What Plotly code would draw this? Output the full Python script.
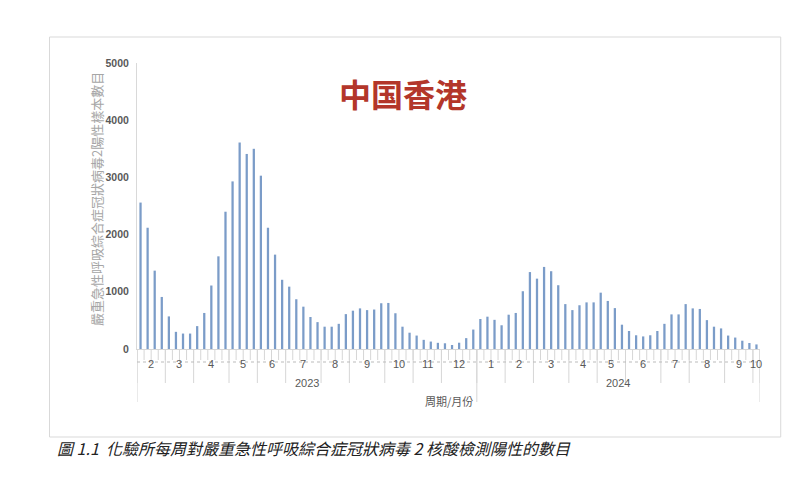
import numpy as np
import plotly.graph_objects as go

# weekly positive counts, grouped by month
years = ["2023", "2024"]
months_2023 = ["2", "3", "4", "5", "6", "7", "8", "9", "10", "11", "12"]
weeks_2023 = [4, 4, 5, 4, 4, 5, 4, 5, 4, 4, 5]
months_2024 = ["1", "2", "3", "4", "5", "6", "7", "8", "9", "10"]
weeks_2024 = [4, 4, 5, 4, 4, 5, 4, 5, 4, 1]

counts_2023 = [2560, 2120, 1370, 910,
               570, 300, 270, 270,
               400, 630, 1110, 1620, 2400,
               2930, 3610, 3410, 3500,
               3030, 2120, 1650, 1210,
               1090, 870, 740, 560, 470,
               390, 390, 440, 610,
               670, 710, 680, 690, 800,
               805, 625, 390, 285,
               235, 160, 130, 108,
               100, 70, 110, 190, 340]
counts_2024 = [525, 565, 510, 415,
               600, 630, 1010, 1345,
               1230, 1435, 1360, 1115, 785,
               680, 765, 815, 815,
               985, 840, 715, 425,
               315, 240, 220, 240, 315,
               440, 605, 605, 785,
               710, 700, 505, 390, 360,
               235, 200, 145, 105,
               80]

counts = counts_2023 + counts_2024
week_idx = np.arange(1, len(counts) + 1)
month_labels = months_2023 + months_2024
month_weeks = weeks_2023 + weeks_2024
year_weeks = [sum(weeks_2023), sum(weeks_2024)]

# page pixel -> paper helpers (plot area 136.5..752.5 x, 63..349 y on the page)
def py(p):
    return (349 - p) / 286

def px(p):
    return (p - 136.5) / 616

fig = go.Figure()
fig.add_trace(go.Bar(x=week_idx, y=counts, width=0.32,
                     marker=dict(color="#7b9cc8", line=dict(width=0))))

shapes = []
annotations = []
grey = "#d6d6d6"

# week ticks
for b in np.arange(0.5, len(counts) + 1, 1.0):
    shapes.append(dict(type="line", xref="x", yref="paper", x0=b, x1=b,
                       y0=0, y1=py(360), line=dict(color=grey, width=1)))
# month groups
edges = np.concatenate([[0.5], 0.5 + np.cumsum(month_weeks)])
for i, lab in enumerate(month_labels):
    annotations.append(dict(x=(edges[i] + edges[i + 1]) / 2, xref="x", y=py(372), yref="paper",
                            xanchor="center", text=lab, showarrow=False,
                            font=dict(size=11, color="#595959")))
for b in edges:
    shapes.append(dict(type="line", xref="x", yref="paper", x0=b, x1=b,
                       y0=0, y1=py(383), line=dict(color=grey, width=1)))
# year groups
yedges = np.concatenate([[0.5], 0.5 + np.cumsum(year_weeks)])
for i, yr in enumerate(years):
    annotations.append(dict(x=(yedges[i] + yedges[i + 1]) / 2, xref="x", y=py(391), yref="paper",
                            xanchor="center", text=yr, showarrow=False,
                            font=dict(size=11, color="#595959")))
for b in yedges:
    shapes.append(dict(type="line", xref="x", yref="paper", x0=b, x1=b,
                       y0=0, y1=py(402), line=dict(color=grey, width=1)))
# dotted row
shapes.append(dict(type="line", xref="paper", yref="paper", x0=0, x1=1, y0=py(362), y1=py(362),
                   line=dict(color="#bbbbbb", width=1, dash="dot")))
# outer frame
shapes.append(dict(type="rect", xref="paper", yref="paper", x0=px(50), x1=px(773), y0=py(437), y1=py(37),
                   line=dict(color="#d9d9d9", width=1)))

annotations += [
    dict(x=px(400), y=py(68), xref="paper", yref="paper", xanchor="center", text="<b>中国香港</b>",
         showarrow=False, font=dict(family="Noto Sans CJK SC", size=32, color="#b3362a")),
    dict(x=px(96), y=py(199), xref="paper", yref="paper", xanchor="center",
         text="嚴重急性呼吸綜合症冠狀病毒2陽性樣本數目",
         textangle=-90, showarrow=False, font=dict(family="Noto Sans CJK TC", size=13, color="#a6a6a6")),
    dict(x=px(445), y=py(411), xref="paper", yref="paper", xanchor="center", text="周期/月份",
         showarrow=False, font=dict(family="Noto Sans CJK TC", size=11, color="#595959")),
    dict(x=px(55), y=py(462), xref="paper", yref="paper", xanchor="left",
         text="<i>圖 1.1  化驗所每周對嚴重急性呼吸綜合症冠狀病毒 2 核酸檢測陽性的數目</i>",
         showarrow=False, font=dict(family="Noto Sans CJK TC", size=16, color="#222222")),
]

# page has an 8px body margin, so the figure is 8px smaller and margins shifted
fig.update_layout(
    width=794, height=492,
    margin=dict(l=128.5, r=41.5, t=55, b=151),
    plot_bgcolor="white", paper_bgcolor="white",
    showlegend=False,
    shapes=shapes, annotations=annotations,
    font=dict(family="Liberation Sans"),
    xaxis=dict(range=[0.5, len(counts) + 0.5], showticklabels=False, showgrid=False,
               zeroline=False, showline=True, linecolor=grey, ticks=""),
    yaxis=dict(range=[0, 5000], dtick=1000, showgrid=False, zeroline=False,
               showline=True, linecolor="#d9d9d9", ticks="", ticklabelstandoff=5,
               tickfont=dict(size=10.5, color="#595959", weight="bold")),
)

fig.write_html("out.html")
